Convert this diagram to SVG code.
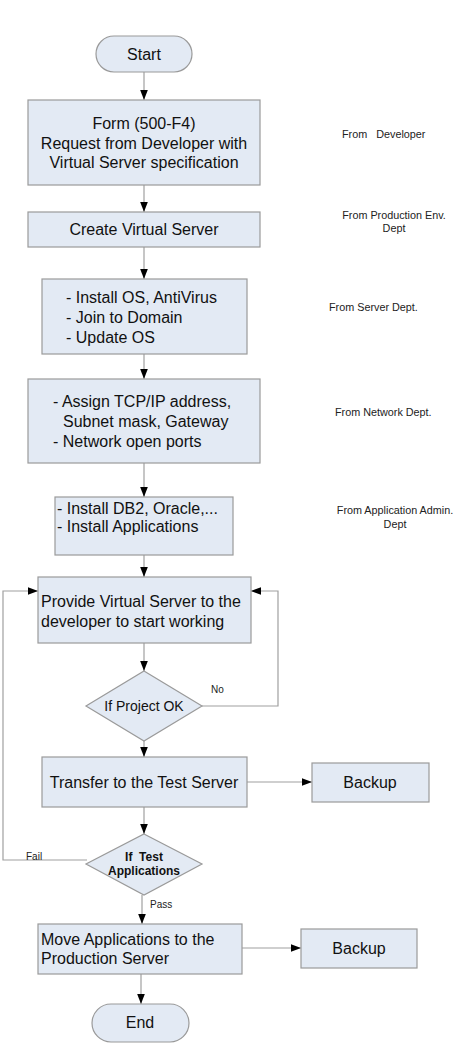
<svg xmlns="http://www.w3.org/2000/svg" width="473" height="1045" viewBox="0 0 473 1045" xml:space="preserve">
<style>
text{white-space:pre}
.box{fill:#e3eaf4;stroke:#9a9a9a;stroke-width:1.2}
.t{font-family:"Liberation Sans",Arial,sans-serif;font-size:16px;fill:#111}
.s{font-family:"Liberation Sans",Arial,sans-serif;font-size:10.8px;fill:#222}
.l{font-family:"Liberation Sans",Arial,sans-serif;font-size:10px;fill:#222}
.d{font-family:"Liberation Sans",Arial,sans-serif;font-size:14px;fill:#111}
.b{font-family:"Liberation Sans",Arial,sans-serif;font-size:12px;font-weight:bold;fill:#111}
.c{fill:none;stroke:#a0a0a0;stroke-width:1.2}
</style>
<defs>
<marker id="ah" viewBox="0 0 10 10" refX="10" refY="5" markerWidth="10" markerHeight="10" markerUnits="userSpaceOnUse" orient="auto">
<path d="M0,1.2 L10,5 L0,8.8 Z" fill="#000"/>
</marker>
</defs>
<rect width="473" height="1045" fill="#fff"/>
<g id="connectors">
<path class="c" d="M144,72 V100" marker-end="url(#ah)"/>
<path class="c" d="M144,185 V212" marker-end="url(#ah)"/>
<path class="c" d="M144,247 V279" marker-end="url(#ah)"/>
<path class="c" d="M144,354 V379" marker-end="url(#ah)"/>
<path class="c" d="M144,463 V497" marker-end="url(#ah)"/>
<path class="c" d="M144,555 V577" marker-end="url(#ah)"/>
<path class="c" d="M144,643 V671" marker-end="url(#ah)"/>
<path class="c" d="M202,706 H278 V591 H251" marker-end="url(#ah)"/>
<path class="c" d="M144,741 V757" marker-end="url(#ah)"/>
<path class="c" d="M247,782 H312" marker-end="url(#ah)"/>
<path class="c" d="M144,807 V834" marker-end="url(#ah)"/>
<path class="c" d="M87,860 H3 V591 H38" marker-end="url(#ah)"/>
<path class="c" d="M142,895 V924" marker-end="url(#ah)"/>
<path class="c" d="M242,948 H301" marker-end="url(#ah)"/>
<path class="c" d="M141,974 V1004" marker-end="url(#ah)"/>
<text class="l" x="211" y="693">No</text>
<text class="l" x="26" y="860">Fail</text>
<text class="l" x="150" y="908">Pass</text>
</g>
<g id="start">
<rect class="box" x="96" y="36" width="96" height="36" rx="18"/>
<text class="t" x="144" y="60" text-anchor="middle">Start</text>
</g>
<g id="form">
<rect class="box" x="28" y="100" width="232" height="85"/>
<text class="t" x="144" y="129" text-anchor="middle">Form (500-F4)</text>
<text class="t" x="144" y="149" text-anchor="middle">Request from Developer with</text>
<text class="t" x="144" y="168" text-anchor="middle">Virtual Server specification</text>
</g>
<g id="note1"><text class="s" x="342" y="138">From   Developer</text></g>
<g id="create">
<rect class="box" x="28" y="212" width="232" height="35"/>
<text class="t" x="144" y="235" text-anchor="middle">Create Virtual Server</text>
</g>
<g id="note2">
<text class="s" x="394" y="219" text-anchor="middle">From Production Env.</text>
<text class="s" x="394" y="232" text-anchor="middle">Dept</text>
</g>
<g id="install">
<rect class="box" x="42" y="279" width="205" height="75"/>
<text class="t" x="66" y="303">- Install OS, AntiVirus</text>
<text class="t" x="66" y="323">- Join to Domain</text>
<text class="t" x="66" y="343">- Update OS</text>
</g>
<g id="note3"><text class="s" x="329" y="311">From Server Dept.</text></g>
<g id="network">
<rect class="box" x="28" y="379" width="232" height="84"/>
<text class="t" x="53" y="407">- Assign TCP/IP address,</text>
<text class="t" x="63" y="427">Subnet mask, Gateway</text>
<text class="t" x="53" y="447">- Network open ports</text>
</g>
<g id="note4"><text class="s" x="335" y="416">From Network Dept.</text></g>
<g id="apps">
<rect class="box" x="55" y="497" width="178" height="58"/>
<text class="t" x="57" y="514">- Install DB2, Oracle,...</text>
<text class="t" x="57" y="532">- Install Applications</text>
</g>
<g id="note5">
<text class="s" x="395" y="514" text-anchor="middle">From Application Admin.</text>
<text class="s" x="395" y="528" text-anchor="middle">Dept</text>
</g>
<g id="provide">
<rect class="box" x="38" y="577" width="213" height="66"/>
<text class="t" x="41" y="607">Provide Virtual Server to the</text>
<text class="t" x="41" y="627">developer to start working</text>
</g>
<g id="decision1">
<path class="box" d="M144,671 L202,706 L144,741 L86,706 Z"/>
<text class="d" x="144" y="711" text-anchor="middle">If Project OK</text>
</g>
<g id="transfer">
<rect class="box" x="42" y="757" width="205" height="50"/>
<text class="t" x="144" y="788" text-anchor="middle">Transfer to the Test Server</text>
</g>
<g id="backup1">
<rect class="box" x="312" y="763" width="117" height="39"/>
<text class="t" x="370" y="788" text-anchor="middle">Backup</text>
</g>
<g id="decision2">
<path class="box" d="M144,834 L202,864 L144,895 L86,864 Z"/>
<text class="b" x="144" y="861" text-anchor="middle">If  Test</text>
<text class="b" x="144" y="875" text-anchor="middle">Applications</text>
</g>
<g id="move">
<rect class="box" x="38" y="924" width="204" height="50"/>
<text class="t" x="41" y="945">Move Applications to the</text>
<text class="t" x="41" y="964">Production Server</text>
</g>
<g id="backup2">
<rect class="box" x="301" y="929" width="116" height="39"/>
<text class="t" x="359" y="954" text-anchor="middle">Backup</text>
</g>
<g id="end">
<rect class="box" x="92" y="1004" width="97" height="38" rx="19"/>
<text class="t" x="140" y="1028" text-anchor="middle">End</text>
</g>
</svg>
